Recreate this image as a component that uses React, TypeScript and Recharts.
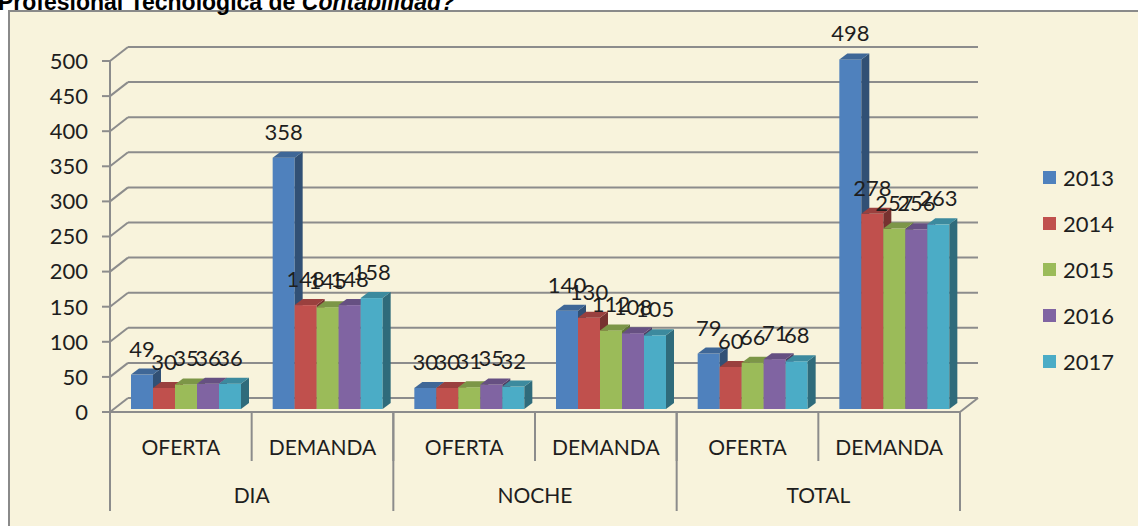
import { BarChart, Bar, XAxis, YAxis, CartesianGrid, Legend, LabelList } from "recharts";

const SUB_LABELS = ["OFERTA", "DEMANDA", "OFERTA", "DEMANDA", "OFERTA", "DEMANDA"];
const GROUPS = ["DIA", "NOCHE", "TOTAL"];
const YEARS = ["2013", "2014", "2015", "2016", "2017"];
const COLORS = ["#4F81BD", "#C0504D", "#9BBB59", "#8064A2", "#4BACC6"];

const V2013 = [49, 358, 30, 140, 79, 498];
const V2014 = [30, 148, 30, 130, 60, 278];
const V2015 = [35, 145, 31, 112, 66, 257];
const V2016 = [36, 148, 35, 108, 71, 256];
const V2017 = [36, 158, 32, 105, 68, 263];
const SERIES = [V2013, V2014, V2015, V2016, V2017];

const Y_TICKS = [0, 50, 100, 150, 200, 250, 300, 350, 400, 450, 500];

const data = SUB_LABELS.map((sub, i) => {
  const row: Record<string, number | string> = { id: i, sub };
  YEARS.forEach((yr, s) => (row["y" + yr] = SERIES[s][i]));
  return row;
});

// layout
const W = 1138;
const H = 526;
const PLOT_LEFT = 110;
const PLOT_RIGHT = 960;
const PLOT_TOP = 61;
const PLOT_BOTTOM = 412;
const BAND = (PLOT_RIGHT - PLOT_LEFT) / SUB_LABELS.length;
const DX = 18; // wall depth
const DY = 14;
const BX = 5; // bar inset
const BY = 3;
const SD = 8; // bar depth
const SE = 6;
const GRID = "#8c8c8c";
const FONT = "Lato, 'Open Sans', sans-serif";
const TXT = "#1e1e1e";

function shade(hex: string, k: number) {
  const n = parseInt(hex.slice(1), 16);
  const r = Math.round(((n >> 16) & 255) * k);
  const g = Math.round(((n >> 8) & 255) * k);
  const b = Math.round((n & 255) * k);
  return `rgb(${r},${g},${b})`;
}

const Bar3D = (props: any) => {
  const { x, y, width, height, fill } = props;
  if (!height || height <= 0) return null;
  const fx = x + BX;
  const fy = y - BY;
  return (
    <g>
      <rect x={fx} y={fy} width={width} height={height} fill={fill} />
      <polygon
        points={`${fx + width},${fy} ${fx + width + SD},${fy - SE} ${fx + width + SD},${fy + height - SE} ${fx + width},${fy + height}`}
        fill={shade(fill, 0.62)}
      />
      <polygon
        points={`${fx},${fy} ${fx + SD},${fy - SE} ${fx + width + SD},${fy - SE} ${fx + width},${fy}`}
        fill={shade(fill, 0.8)}
      />
    </g>
  );
};

const renderValue = (props: any) => {
  const { x, y, width, value } = props;
  return (
    <text x={x + BX + width / 2} y={y - BY - 18} textAnchor="middle" fontSize={22} fontFamily={FONT} fill={TXT}>
      {value}
    </text>
  );
};

const renderGridLine = (props: any) => {
  const { x1, x2, y1 } = props;
  return (
    <g key={props.key ?? `gl-${y1}`} stroke={GRID} strokeWidth={2}>
      <line x1={x1} y1={y1} x2={x1 + DX} y2={y1 - DY} />
      <line x1={x1 + DX} y1={y1 - DY} x2={x2 + DX} y2={y1 - DY} />
      {Math.abs(y1 - PLOT_BOTTOM) < 1 && <line x1={x2} y1={y1} x2={x2 + DX} y2={y1 - DY} />}
    </g>
  );
};

const SubTick = (props: any) => {
  const { x, payload } = props;
  const i = Number(payload.value);
  return (
    <g>
      <line x1={x - BAND / 2} y1={PLOT_BOTTOM} x2={x - BAND / 2} y2={PLOT_BOTTOM + 49} stroke={GRID} strokeWidth={2} />
      {i === SUB_LABELS.length - 1 && (
        <line x1={x + BAND / 2} y1={PLOT_BOTTOM} x2={x + BAND / 2} y2={PLOT_BOTTOM + 49} stroke={GRID} strokeWidth={2} />
      )}
      <text x={x} y={446} textAnchor="middle" dominantBaseline="central" fontSize={21} fontFamily={FONT} fill={TXT}>
        {SUB_LABELS[i]}
      </text>
    </g>
  );
};

const GroupTick = (props: any) => {
  const { x, payload } = props;
  const i = Number(payload.value);
  const last = i === SUB_LABELS.length - 1;
  return (
    <g>
      {i % 2 === 0 && (
        <>
          <line x1={x - BAND / 2} y1={PLOT_BOTTOM} x2={x - BAND / 2} y2={511} stroke={GRID} strokeWidth={2} />
          <text x={x + BAND / 2} y={494} textAnchor="middle" dominantBaseline="central" fontSize={21} fontFamily={FONT} fill={TXT}>
            {GROUPS[i / 2]}
          </text>
        </>
      )}
      {last && <line x1={x + BAND / 2} y1={PLOT_BOTTOM} x2={x + BAND / 2} y2={511} stroke={GRID} strokeWidth={2} />}
    </g>
  );
};

const LegendBox = () => (
  <div style={{ fontFamily: FONT, fontSize: 22, color: TXT }}>
    {YEARS.map((yr, i) => (
      <div key={yr} style={{ height: 46, display: "flex", alignItems: "center" }}>
        <span style={{ width: 13, height: 13, background: COLORS[i], display: "inline-block", marginRight: 7 }} />
        <span>{yr}</span>
      </div>
    ))}
  </div>
);

export default function App() {
  return (
    <div style={{ position: "fixed", left: 0, top: 0, width: W, height: H, overflow: "hidden", background: "#fff" }}>
      <div
        style={{
          position: "absolute",
          left: 8,
          top: 10,
          width: W + 20,
          height: H + 20,
          border: "2px solid #8a8a8a",
          background: "#F8F3DC",
        }}
      />
      <div
        style={{
          position: "absolute",
          left: -2,
          top: -9,
          fontFamily: "'Liberation Sans', Arial, sans-serif",
          fontWeight: "bold",
          fontSize: 23,
          lineHeight: "23px",
          whiteSpace: "nowrap",
          color: "#000",
        }}
      >
        Profesional Tecnológica de <i>Contabilidad?</i>
      </div>
      <BarChart
        width={W}
        height={H}
        data={data}
        margin={{ top: PLOT_TOP, right: W - PLOT_RIGHT, bottom: 0, left: 0 }}
        barCategoryGap={16}
        barGap={0}
        style={{ position: "absolute", left: 0, top: 0 }}
      >
        <CartesianGrid vertical={false} horizontal={renderGridLine} />
        <XAxis
          dataKey="id"
          height={50}
          tickLine={false}
          axisLine={{ stroke: GRID, strokeWidth: 2 }}
          tick={SubTick}
          interval={0}
        />
        <XAxis xAxisId="grp" dataKey="id" height={64} tickLine={false} axisLine={false} tick={GroupTick} interval={0} />
        <YAxis
          width={PLOT_LEFT}
          domain={[0, 500]}
          ticks={Y_TICKS}
          interval={0}
          tickSize={8}
          tickMargin={14}
          axisLine={{ stroke: GRID, strokeWidth: 2 }}
          tickLine={{ stroke: GRID, strokeWidth: 2 }}
          tick={{ fontSize: 22, fontFamily: FONT, fill: TXT }}
        />
        <Legend
          layout="vertical"
          align="center"
          verticalAlign="middle"
          wrapperStyle={{ left: 1043, top: 154, width: 95 }}
          content={LegendBox}
        />
        {YEARS.map((yr, i) => (
          <Bar key={yr} dataKey={"y" + yr} name={yr} fill={COLORS[i]} shape={Bar3D} isAnimationActive={false}>
            <LabelList dataKey={"y" + yr} content={renderValue} />
          </Bar>
        ))}
      </BarChart>
    </div>
  );
}
